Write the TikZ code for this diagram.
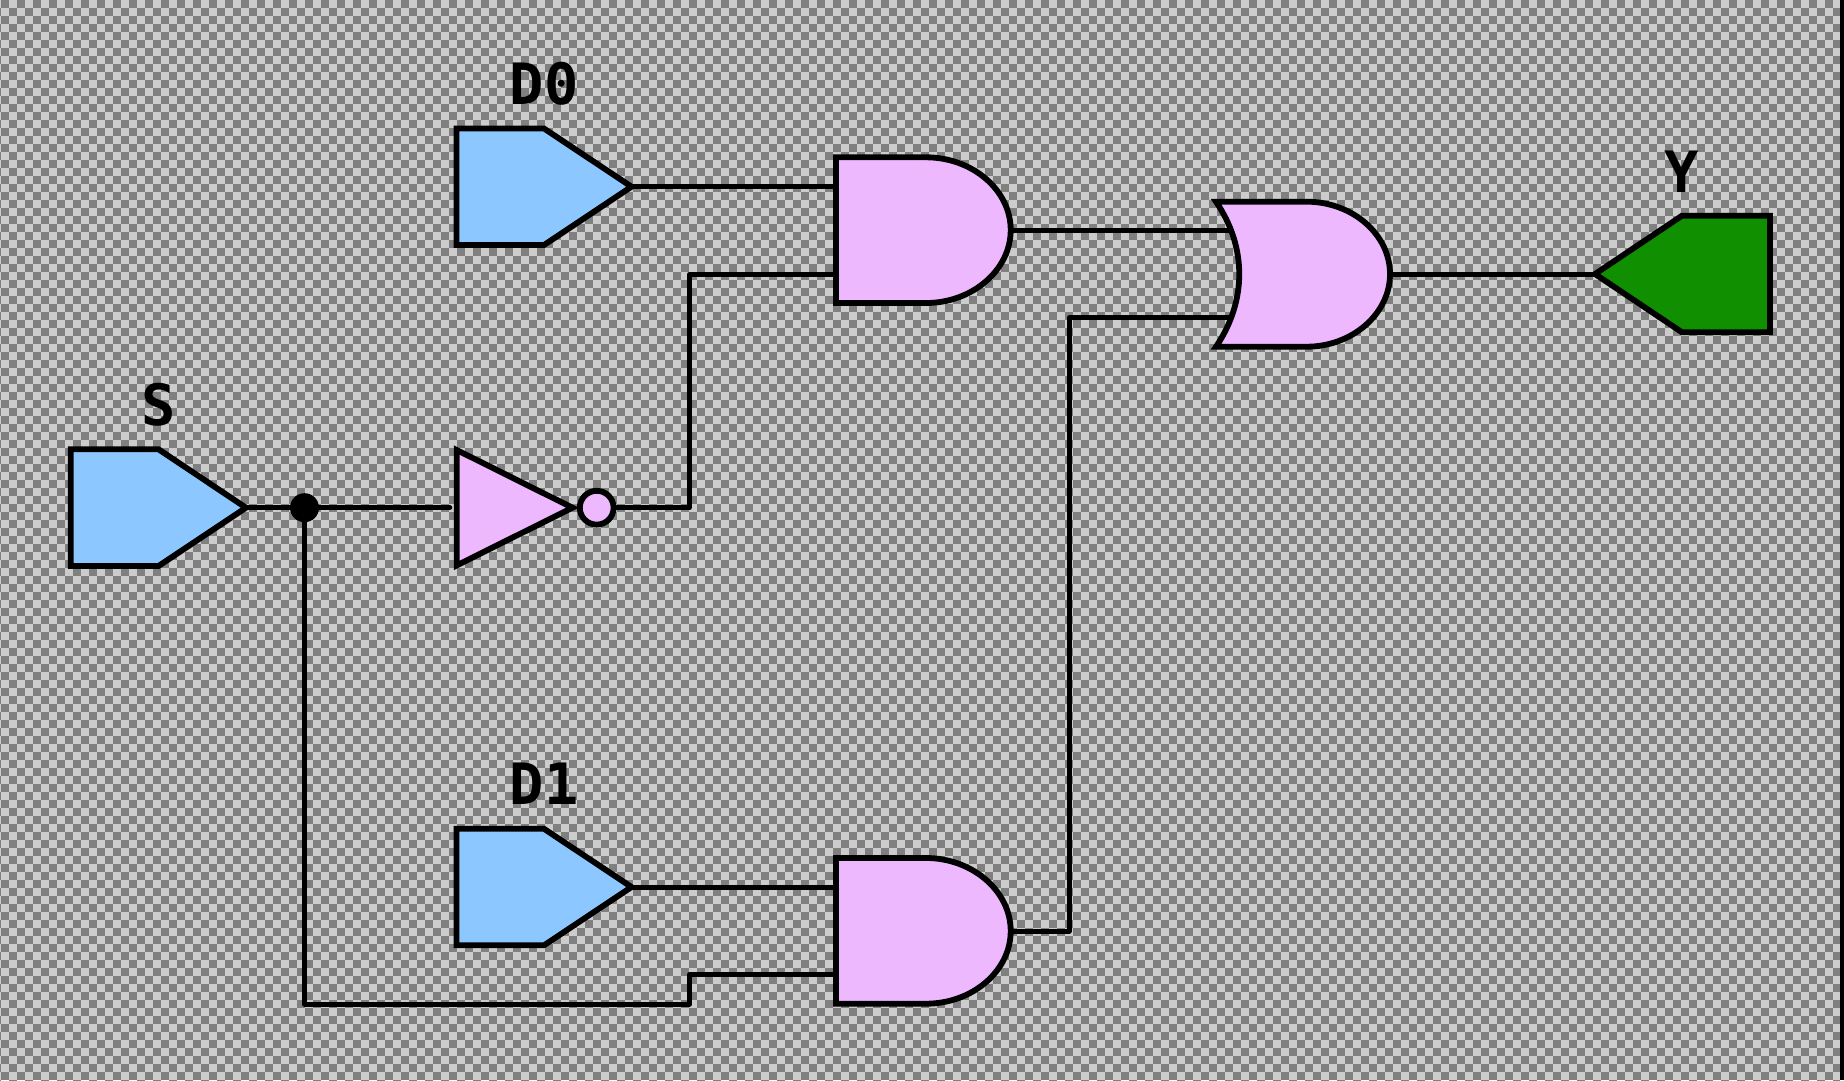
\documentclass[tikz,border=0pt]{standalone}
\usepackage{fontspec}
\setmainfont{DejaVu Sans Mono}[BoldFont={* Bold}]
\definecolor{pinkfill}{RGB}{238,184,255}
\definecolor{bluefill}{RGB}{140,200,255}
\definecolor{greenfill}{RGB}{16,144,0}
\definecolor{chkdark}{RGB}{128,128,128}
\definecolor{chklight}{RGB}{204,204,204}
\tikzset{
  checkrow/.style={draw=chkdark,line width=8pt,dash pattern=on 8pt off 8pt},
  gate/.style={draw=black,line width=5.8pt,miter limit=10,line join=miter},
  wire/.style={draw=black,line width=5pt,line cap=round,line join=round},
  pinlabel/.style={font=\fontsize{57}{57}\selectfont\bfseries,anchor=base,inner sep=0pt,text=black},
}
\begin{document}
\begin{tikzpicture}[x=1pt,y=-1pt]
\useasboundingbox (0,0) rectangle (1844,1080);
\fill[chklight] (0,0) rectangle (1844,1080);
\foreach \r in {0,2,...,134} \draw[checkrow] (-15,{\r*8+4}) -- (1840,{\r*8+4});
\foreach \r in {1,3,...,135} \draw[checkrow] (-7,{\r*8+4}) -- (1840,{\r*8+4});
\fill[black] (1840,0) rectangle (1844,1080);

% pins
\coordinate (d0out) at (631.5,186.7);
\coordinate (d1out) at (631.5,887);
\coordinate (sout) at (246,507.7);
\coordinate (yin) at (1595,274);
\coordinate (junct) at (304.5,507.7);
\coordinate (invin) at (449.8,507.7);
\coordinate (invout) at (613.5,507.7);
\coordinate (and1a) at (836,186.7);
\coordinate (and1b) at (836,274.3);
\coordinate (and1o) at (1010.7,230);
\coordinate (and2a) at (836,887);
\coordinate (and2b) at (836,974.5);
\coordinate (and2o) at (1010.7,931);
\coordinate (or1a) at (1232,230);
\coordinate (or1b) at (1232,317.7);
\coordinate (or1o) at (1390,274);

% wires
\draw[wire] (d0out) -- (and1a);
\draw[wire] (sout) -- (junct) -- (invin);
\draw[wire] (invout) -| (689.5,274.3) -- (and1b);
\draw[wire] (d1out) -- (and2a);
\draw[wire] (junct) |- (689.5,1004) -- (689.5,974.5) -- (and2b);
\draw[wire] (and1o) -- (or1a);
\draw[wire] (and2o) -| (1069.3,317.7) -- (or1b);
\draw[wire] (or1o) -- (yin);
\fill[black] (junct) circle[radius=14.5];

% input and output pins
\draw[gate,fill=bluefill] (456.5,128.5) -- (544,128.5) -- (d0out) -- (544,245) -- (456.5,245) -- cycle;
\draw[gate,fill=bluefill] (456.5,828.8) -- (544,828.8) -- (d1out) -- (544,945.3) -- (456.5,945.3) -- cycle;
\draw[gate,fill=bluefill] (70.7,449.3) -- (158.5,449.3) -- (sout) -- (158.5,566) -- (70.7,566) -- cycle;
\draw[gate,fill=greenfill] (1770,215.7) -- (1682,215.7) -- (yin) -- (1682,332.3) -- (1770,332.3) -- cycle;

% and gates
\draw[gate,fill=pinkfill] (836,157.3) -- (926,157.3)
  .. controls (972.4,157.3) and (1010.7,190) .. (and1o)
  .. controls (1010.7,270) and (972.4,303) .. (926,303) -- (836,303) -- cycle;
\draw[gate,fill=pinkfill] (836,858) -- (926,858)
  .. controls (972.4,858) and (1010.7,891) .. (and2o)
  .. controls (1010.7,971) and (972.4,1003.7) .. (926,1003.7) -- (836,1003.7) -- cycle;
% or gate
\draw[gate,fill=pinkfill] (1216,201.7) -- (1306.7,201.7)
  .. controls (1352,201.7) and (1390,234) .. (or1o)
  .. controls (1390,314) and (1352,346.7) .. (1306.7,346.7) -- (1216,346.7)
  .. controls (1247,301) and (1247,247) .. cycle;
% inverter
\draw[gate,fill=pinkfill] (456.7,450) -- (572.5,507.7) -- (456.7,565.4) -- cycle;
\draw[gate,fill=pinkfill] (596.7,507.7) circle[radius=16.9];

% labels
\node[pinlabel] (d0label) at (544.3,104.3) {D0};
\node[pinlabel] (d1label) at (544.3,804.6) {D1};
\node[pinlabel] (slabel) at (158.3,425) {S};
\node[pinlabel] (ylabel) at (1682,192.7) {Y};
\end{tikzpicture}
\end{document}
